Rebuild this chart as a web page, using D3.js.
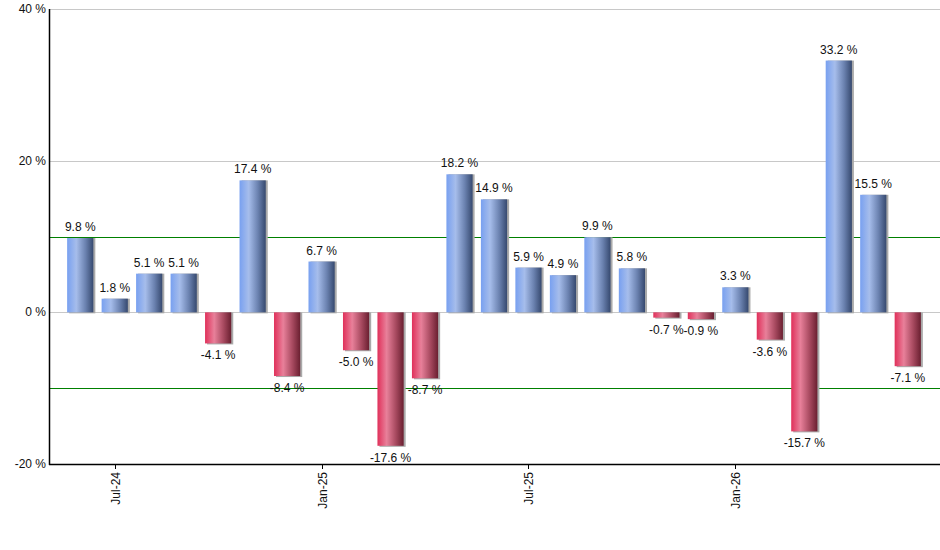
<!DOCTYPE html>
<html>
<head>
<meta charset="utf-8">
<script src="https://cdn.jsdelivr.net/npm/d3@7.9.0/dist/d3.min.js"></script>
<style>
  body { margin: 0; background: #fff; }
  svg text { font-family: "Liberation Sans", Arial, sans-serif; font-size: 12px; fill: #111; }
</style>
</head>
<body>
<svg width="940" height="550"></svg>
<script>
// monthly returns, Jun-24 .. Jun-26
const months = ["Jun-24","Jul-24","Aug-24","Sep-24","Oct-24","Nov-24","Dec-24","Jan-25","Feb-25","Mar-25",
  "Apr-25","May-25","Jun-25","Jul-25","Aug-25","Sep-25","Oct-25","Nov-25","Dec-25","Jan-26",
  "Feb-26","Mar-26","Apr-26","May-26","Jun-26"];
const values = [9.8, 1.8, 5.1, 5.1, -4.1, 17.4, -8.4, 6.7, -5.0, -17.6, -8.7, 18.2, 14.9, 5.9, 4.9,
  9.9, 5.8, -0.7, -0.9, 3.3, -3.6, -15.7, 33.2, 15.5, -7.1];
const xTicks = ["Jul-24", "Jan-25", "Jul-25", "Jan-26"];
const yTicks = [-20, 0, 20, 40];
const gridVals = [0, 20, 40];
const limitVals = [-10, 10];

const svg = d3.select("svg");
const mLeft = 49, mRight = 940, mTop = 9, mBottom = 464;

const x = d3.scaleBand().domain(months).range([63, 925]).paddingInner(0.24).paddingOuter(0.12);
const y = d3.scaleLinear().domain([-20, 40]).range([mBottom, mTop]);
const py = v => Math.round(y(v)) + 0.5;

// gradients
const defs = svg.append("defs");
function grad(id, stops) {
  const g = defs.append("linearGradient").attr("id", id).attr("x1", "0%").attr("x2", "100%");
  stops.forEach(([o, c]) => g.append("stop").attr("offset", o).attr("stop-color", c));
}
grad("gBlue", [["0%", "#78a0f0"], ["35%", "#a6bdeb"], ["70%", "#6b82b0"], ["100%", "#36496f"]]);
grad("gRed", [["0%", "#e0305a"], ["35%", "#e8809a"], ["70%", "#a84a60"], ["100%", "#6a1f30"]]);

// grid
svg.append("g").selectAll("line").data(gridVals).join("line")
  .attr("x1", mLeft).attr("x2", mRight)
  .attr("y1", py).attr("y2", py)
  .attr("stroke", "#c8c8c8");

svg.append("g").selectAll("line").data(limitVals).join("line")
  .attr("x1", mLeft).attr("x2", mRight)
  .attr("y1", py).attr("y2", py)
  .attr("stroke", "#008000");

// bars
const bars = svg.append("g");
bars.selectAll("rect.shadow").data(values).join("rect")
  .attr("class", "shadow")
  .attr("x", (d, i) => x(months[i]) + 2)
  .attr("width", x.bandwidth())
  .attr("y", d => y(Math.max(0, d)))
  .attr("height", d => Math.abs(y(d) - y(0)) + 1)
  .attr("fill", "#aaa");
bars.selectAll("rect.bar").data(values).join("rect")
  .attr("class", "bar")
  .attr("x", (d, i) => x(months[i]))
  .attr("width", x.bandwidth())
  .attr("y", d => y(Math.max(0, d)))
  .attr("height", d => Math.abs(y(d) - y(0)))
  .attr("fill", d => d >= 0 ? "url(#gBlue)" : "url(#gRed)");

// labels
svg.append("g").selectAll("text").data(values).join("text")
  .attr("x", (d, i) => x(months[i]) + x.bandwidth() / 2)
  .attr("y", d => d >= 0 ? y(d) - 7 : y(d) + 16)
  .attr("text-anchor", "middle")
  .text(d => d.toFixed(1) + " %");

// axes
const yAxis = svg.append("g");
yAxis.append("line").attr("x1", mLeft + 0.5).attr("x2", mLeft + 0.5).attr("y1", mTop).attr("y2", mBottom + 1)
  .attr("stroke", "#000").attr("stroke-width", 1.5);
yAxis.selectAll("text").data(yTicks).join("text")
  .attr("x", mLeft - 3).attr("y", d => y(d) + 4)
  .attr("text-anchor", "end")
  .text(d => d + " %");

const xAxis = svg.append("g");
xAxis.append("line").attr("x1", mLeft).attr("x2", mRight).attr("y1", mBottom + 0.5).attr("y2", mBottom + 0.5)
  .attr("stroke", "#000").attr("stroke-width", 1.5);
const ticks = xAxis.selectAll("g").data(xTicks).join("g")
  .attr("transform", d => `translate(${Math.round(x(d) + x.bandwidth() / 2) + 0.5},${mBottom})`);
ticks.append("line").attr("y1", 0).attr("y2", 5).attr("stroke", "#000");
ticks.append("text")
  .attr("transform", "rotate(-90)")
  .attr("x", -8).attr("y", 4)
  .attr("text-anchor", "end")
  .text(d => d);
</script>
</body>
</html>
